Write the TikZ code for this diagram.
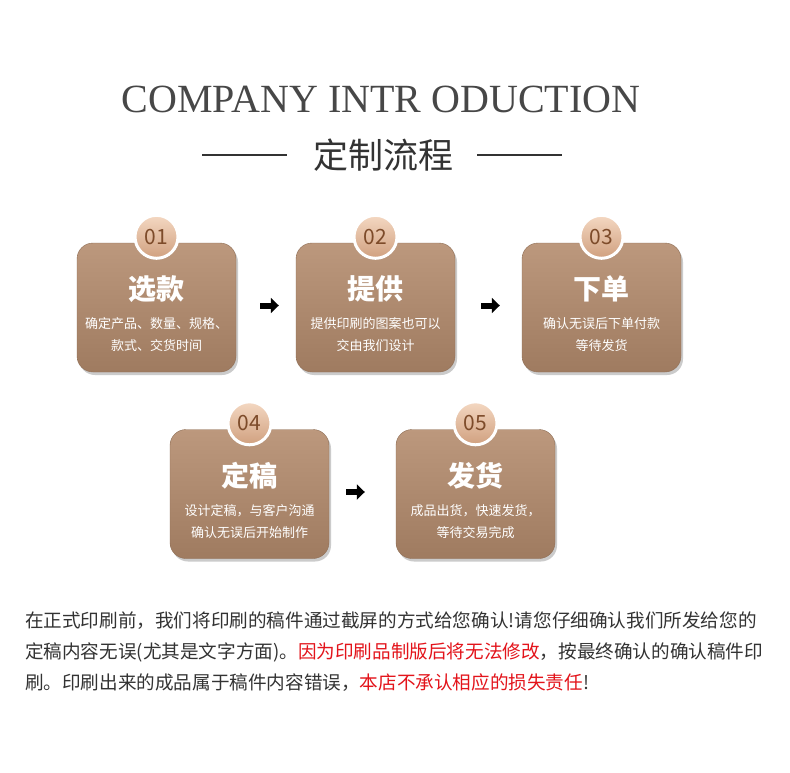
\documentclass[tikz,border=0pt]{standalone}
\usepackage{fontspec}
\setmainfont{Noto Sans CJK SC}
\newfontfamily\titlefont{Liberation Serif}
\usetikzlibrary{arrows.meta, positioning, shadows}
\definecolor{cbrowntop}{HTML}{BC987D}
\definecolor{cbrownbot}{HTML}{9F7B60}
\definecolor{cpeach}{HTML}{F4D8C2}
\definecolor{ctan}{HTML}{D0A07F}
\definecolor{cnum}{HTML}{7D4B2A}
\definecolor{cdark}{HTML}{333333}
\definecolor{cred}{HTML}{E3141B}
\tikzset{
  box/.style={rounded corners=16pt, minimum width=159pt, minimum height=129pt, inner sep=0pt,
    top color=cbrowntop, bottom color=cbrownbot, draw=cbrownbot!90!black, line width=0.4pt,
    drop shadow={shadow xshift=2pt, shadow yshift=-3pt, fill=black!45, opacity=.45}},
  badge/.style={circle, minimum size=43pt, inner sep=0pt, draw=white, line width=3pt,
    top color=cpeach, bottom color=ctan, text=cnum, font=\fontsize{21}{21}\selectfont,
    drop shadow={shadow xshift=0pt, shadow yshift=-1.5pt, fill=black!50, opacity=.35}},
  head/.style={text=white, font=\fontsize{28}{28}\selectfont\bfseries},
  desc/.style={text=white, align=center, font=\fontsize{13}{22}\selectfont},
  flow/.style={-{Triangle[length=8pt, width=15pt]}, line width=6pt, draw=black},
  rule/.style={draw=cdark, line width=1.5pt},
  para/.style={anchor=base west, inner sep=0pt, text=cdark, font=\fontsize{18.6}{18.6}\selectfont},
}
\begin{document}
\begin{tikzpicture}[x=1pt, y=-1pt]
  \useasboundingbox[fill=white] (0,0) rectangle (790,773);
  % title
  \node[anchor=base, text=cdark!90, font=\titlefont\fontsize{40}{40}\selectfont] (title) at (381,113) {COMPANY INTR ODUCTION};
  \node[text=cdark, font=\fontsize{35}{35}\selectfont] (sub) at (383,155) {定制流程};
  \coordinate (la) at (202,155); \coordinate (lb) at (287,155);
  \coordinate (ra) at (477,155); \coordinate (rb) at (562,155);
  \draw[rule] (la) -- (lb); \draw[rule] (ra) -- (rb);
  % row 1
  \node[box] (b1) at (156.5,307.5) {};
  \node[box] (b2) at (375.5,307.5) {};
  \node[box] (b3) at (601.5,307.5) {};
  % row 2
  \node[box] (b4) at (249.5,494) {};
  \node[box] (b5) at (475.5,494) {};
  % badges
  \node[badge] (n1) at ([yshift=6pt]b1.north) {01};
  \node[badge] (n2) at ([yshift=6pt]b2.north) {02};
  \node[badge] (n3) at ([yshift=6pt]b3.north) {03};
  \node[badge] (n4) at ([yshift=6pt]b4.north) {04};
  \node[badge] (n5) at ([yshift=6pt]b5.north) {05};
  % texts
  \node[head] (h1) at ([yshift=-46pt]b1.north) {选款};
  \node[desc] (d1) at ([yshift=-92pt]b1.north) {确定产品、数量、规格、\\款式、交货时间};
  \node[head] (h2) at ([yshift=-46pt]b2.north) {提供};
  \node[desc] (d2) at ([yshift=-92pt]b2.north) {提供印刷的图案也可以\\交由我们设计};
  \node[head] (h3) at ([yshift=-46pt]b3.north) {下单};
  \node[desc] (d3) at ([yshift=-92pt]b3.north) {确认无误后下单付款\\等待发货};
  \node[head] (h4) at ([yshift=-46pt]b4.north) {定稿};
  \node[desc] (d4) at ([yshift=-92pt]b4.north) {设计定稿，与客户沟通\\确认无误后开始制作};
  \node[head] (h5) at ([yshift=-46pt]b5.north) {发货};
  \node[desc] (d5) at ([yshift=-92pt]b5.north) {成品出货，快速发货，\\等待交易完成};
  % arrows
  \draw[flow] ([xshift=24pt, yshift=2pt]b1.east) -- ([xshift=-17pt, yshift=2pt]b2.west);
  \draw[flow] ([xshift=26pt, yshift=2pt]b2.east) -- ([xshift=-22pt, yshift=2pt]b3.west);
  \draw[flow] ([xshift=17pt, yshift=2pt]b4.east) -- ([xshift=-31pt, yshift=2pt]b5.west);
  % note
  \node[para] (p1) at (25,627) {在正式印刷前，我们将印刷的稿件通过截屏的方式给您确认!请您仔细确认我们所发给您的};
  \node[para] (p2) at (25,658) {定稿内容无误(尤其是文字方面)。{\color{cred}因为印刷品制版后将无法修改}，按最终确认的确认稿件印};
  \node[para] (p3) at (25,689) {刷。印刷出来的成品属于稿件内容错误，{\color{cred}本店不承认相应的损失责任}!};
\end{tikzpicture}
\end{document}
